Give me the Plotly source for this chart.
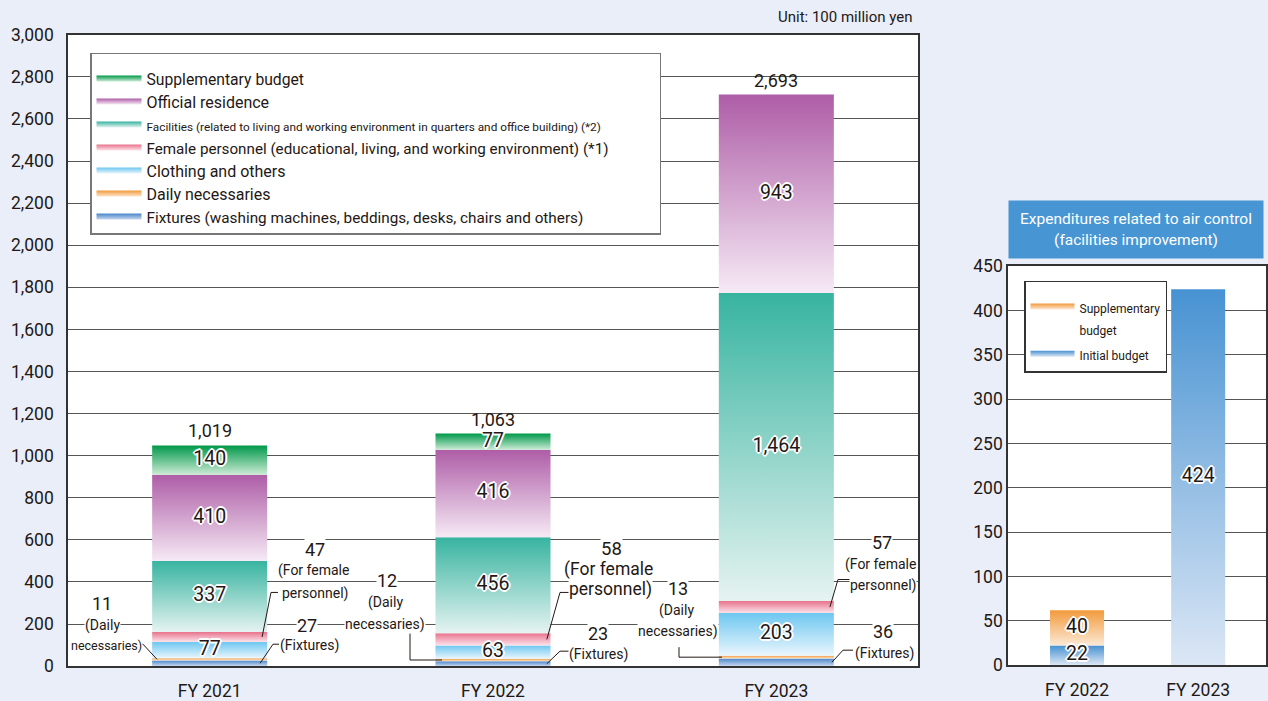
import plotly.graph_objects as go

# ---------------- data ----------------
years = ["FY 2021", "FY 2022", "FY 2023"]
fixtures = [27, 23, 36]
daily = [11, 12, 13]
clothing = [77, 63, 203]
female = [47, 58, 57]
facilities = [337, 456, 1464]
residence = [410, 416, 943]
supplementary = [140, 77, 0]
total_labels = ["1,019", "1,063", "2,693"]

series_names = [
    "Fixtures (washing machines, beddings, desks, chairs and others)",
    "Daily necessaries",
    "Clothing and others",
    "Female personnel (educational, living, and working environment) (*1)",
    "Facilities (related to living and working environment in quarters and office building) (*2)",
    "Official residence",
    "Supplementary budget",
]
ext_captions = ["(Fixtures)", "(Daily", "necessaries)", "(For female", "personnel)"]

air_years = ["FY 2022", "FY 2023"]
air_initial = [22, 424]
air_supp = [40, 0]
air_names = [["Initial budget"], ["Supplementary", "budget"]]

# ---------------- styles / geometry helpers ----------------
series_values = [fixtures, daily, clothing, female, facilities, residence, supplementary]
series_colors = [  # (top, bottom)
    ("#4A87CB", "#C9D8EF"),
    ("#F29A3C", "#FDE6CF"),
    ("#6DC7F0", "#EAF6FD"),
    ("#E8738D", "#FCE3EA"),
    ("#37B4A0", "#E6F3F1"),
    ("#AE5DA7", "#F6EAF5"),
    ("#00984A", "#CDEBD6"),
]
inner_label = [False, False, True, False, True, True, True]
legend_sizes = [15.3, 16, 16, 15.2, 11.8, 16, 15.7]
legend_pad = [0, 0, 0, 12, 0, 0, 0]
air_colors = [("#4792D2", "#DCE7F5"), ("#F29A3C", "#FCE9D6")]

BG = "#E9EEF8"
TXT = "#231815"
FONT = "Roboto, Arial"
HALO = ("-1px -1px 0 #fff, 1px -1px 0 #fff, -1px 1px 0 #fff, 1px 1px 0 #fff, "
        "0 2px 0 #fff, 2px 0 0 #fff, -2px 0 0 #fff, 0 -2px 0 #fff")
HW = 0.203
HW2 = 0.223

W, H_EFF, TOP_OFF = 1268, 677, 10


def pxx(px):
    return px / W


def pxy(py):
    return 1 - (py - TOP_OFF) / H_EFF


def dx(px):  # main chart pixel -> data x
    return (px - 68) / 850 * 3 - 0.5


def dy(py):  # main chart pixel -> data y
    return (669 - py) * 3000 / 634


fig = go.Figure()

# main stacked bars as gradient-filled rectangles
base = [0, 0, 0]
mids = {}
lab_x, lab_y, lab_t = [], [], []
for s, (name, vals, (ctop, cbot)) in enumerate(zip(series_names, series_values, series_colors)):
    first = True
    for i, v in enumerate(vals):
        if v <= 0:
            continue
        b = base[i]
        fig.add_trace(go.Scatter(
            x=[i - HW, i + HW, i + HW, i - HW, i - HW],
            y=[b, b, b + v, b + v, b],
            mode="none", fill="toself",
            fillgradient=dict(type="vertical", colorscale=[[0, cbot], [1, ctop]]),
            name=(f'<span style="font-size:{legend_sizes[s]}px">{name}'
                  + "&nbsp;" * legend_pad[s] + "</span>"),
            showlegend=first, legend="legend", hoverinfo="skip",
            xaxis="x", yaxis="y",
        ))
        first = False
        mids[(s, i)] = b + v / 2
        if inner_label[s]:
            lab_x.append(i)
            lab_y.append(b + v / 2)
            lab_t.append(f"{v:,}")
        base[i] = b + v

fig.add_trace(go.Scatter(
    x=lab_x, y=lab_y, text=lab_t, mode="text", showlegend=False, hoverinfo="skip",
    textfont=dict(family=FONT, size=19.5, color=TXT, shadow=HALO),
    xaxis="x", yaxis="y",
))

# totals
for i, t in enumerate(total_labels):
    fig.add_annotation(x=i, y=base[i], xref="x", yref="y", text=t, showarrow=False,
                       yanchor="bottom", yshift=2,
                       font=dict(family=FONT, size=18, color=TXT))

# air control chart
abase = [0, 0]
alab_x, alab_y, alab_t = [], [], []
for s, (name_lines, vals, (ctop, cbot)) in enumerate(zip(air_names, [air_initial, air_supp], air_colors)):
    first = True
    nm = "<br>".join(f'<span style="font-size:12px">{ln}</span>' for ln in name_lines)
    for i, v in enumerate(vals):
        if v <= 0:
            continue
        b = abase[i]
        fig.add_trace(go.Scatter(
            x=[i - HW2, i + HW2, i + HW2, i - HW2, i - HW2],
            y=[b, b, b + v, b + v, b],
            mode="none", fill="toself",
            fillgradient=dict(type="vertical", colorscale=[[0, cbot], [1, ctop]]),
            name=nm, showlegend=first, legend="legend2", hoverinfo="skip",
            xaxis="x2", yaxis="y2",
        ))
        first = False
        alab_x.append(i)
        alab_y.append(b + v / 2)
        alab_t.append(f"{v:,}")
        abase[i] = b + v

fig.add_trace(go.Scatter(
    x=alab_x, y=alab_y, text=alab_t, mode="text", showlegend=False, hoverinfo="skip",
    textfont=dict(family=FONT, size=19.5, color=TXT, shadow=HALO),
    xaxis="x2", yaxis="y2",
))

# external labels for small segments: (series, bar, [(caption index or None, x px, y px, size)])
ext = [
    (1, 0, [(None, 102, 606, 18), (1, 102, 628, 14), (2, 106, 648, 12.5)]),
    (3, 0, [(None, 315, 552, 18), (3, 313, 573, 14), (4, 315, 596, 14)]),
    (0, 0, [(None, 307, 628, 18), (0, 309, 648, 14)]),
    (1, 1, [(None, 387, 583, 18), (1, 385, 605, 14), (2, 385, 627, 14)]),
    (3, 1, [(None, 611, 551, 18.5), (3, 608, 572, 17.5), (4, 610, 592, 17.5)]),
    (0, 1, [(None, 598, 636, 18), (0, 598, 657, 14)]),
    (1, 2, [(None, 678, 591, 18), (1, 676, 613, 14), (2, 678, 634, 14)]),
    (3, 2, [(None, 882, 545, 18), (3, 880, 567, 14), (4, 883, 588, 14)]),
    (0, 2, [(None, 883, 634, 18), (0, 884, 656, 14)]),
]
for s, i, lines in ext:
    for cap, x, y, sz in lines:
        txt = str(series_values[s][i]) if cap is None else ext_captions[cap]
        fig.add_annotation(x=dx(x), y=dy(y), xref="x", yref="y", text=txt,
                           showarrow=False, bgcolor="white", borderpad=0,
                           font=dict(family=FONT, size=sz, color=TXT))

# leader lines: polyline from label (pixel points) to the middle of the segment
leaders = [
    (1, 0, [(138, 647), (143, 647)], -HW + 0.017),
    (3, 0, [(278, 595), (271, 595)], HW - 0.018),
    (0, 0, [(279, 647), (273, 647)], HW - 0.025),
    (1, 1, [(410, 636), (410, None)], -HW + 0.023),
    (3, 1, [(570, 595), (560, 595)], HW - 0.013),
    (0, 1, [(569, 654), (560, 654)], HW - 0.013),
    (1, 2, [(679, 650), (679, None)], -HW + 0.011),
    (3, 2, [(850, 582), (838, 582)], HW - 0.014),
    (0, 2, [(853, 653), (843, 653)], HW - 0.007),
]
for s, i, pts, off in leaders:
    ym = mids[(s, i)]
    coords = [(dx(px), dy(py) if py is not None else ym) for px, py in pts] + [(i + off, ym)]
    path = "M " + " L ".join(f"{a:.4f},{b:.2f}" for a, b in coords)
    fig.add_shape(type="path", path=path, xref="x", yref="y",
                  line=dict(color=TXT, width=1), layer="above")

# header box and unit
fig.add_annotation(x=pxx(1136), y=pxy(231.5), xref="paper", yref="paper",
                   text="Expenditures related to air control<br>(facilities improvement)",
                   showarrow=False, xanchor="center", yanchor="middle",
                   bgcolor="#4796D3", width=252, height=55, borderpad=1,
                   font=dict(family=FONT, size=15.5, color="white"))
fig.add_annotation(x=pxx(914), y=pxy(17), xref="paper", yref="paper",
                   text="Unit: 100 million yen", showarrow=False,
                   xanchor="right", yanchor="middle",
                   font=dict(family=FONT, size=15, color=TXT))

axis_common = dict(showline=True, mirror=True, linecolor="#333333", linewidth=1.5,
                   ticks="", fixedrange=True, zeroline=False,
                   tickfont=dict(family=FONT, size=17.5, color=TXT))

fig.update_layout(
    width=1268, height=701, autosize=False,
    margin=dict(l=0, r=0, t=0, b=0),
    paper_bgcolor=BG, plot_bgcolor="white",
    font=dict(family=FONT, color=TXT),
    xaxis=dict(domain=[pxx(68), pxx(918)], range=[-0.5, 2.5], tickvals=[0, 1, 2], ticktext=years,
               showgrid=False, anchor="y", ticklabelstandoff=8, **axis_common),
    yaxis=dict(domain=[pxy(671), pxy(35)], range=[0, 3000], dtick=200, tickformat=",",
               showgrid=True, gridcolor="#555555", gridwidth=1, anchor="x",
               ticklabelstandoff=9, **axis_common),
    xaxis2=dict(domain=[pxx(1008), pxx(1266)], range=[-0.57, 1.56], tickvals=[0, 1],
                ticktext=air_years, showgrid=False, anchor="y2", ticklabelstandoff=8,
                **axis_common),
    yaxis2=dict(domain=[pxy(670), pxy(268)], range=[0, 450], dtick=50,
                showgrid=True, gridcolor="#555555", gridwidth=1, anchor="x2", **axis_common),
    legend=dict(x=pxx(90), y=pxy(53), xanchor="left", yanchor="top", traceorder="reversed",
                bgcolor="white", bordercolor="#777777", borderwidth=1.5,
                font=dict(family=FONT, size=15.4, color=TXT), itemwidth=45,
                tracegroupgap=0,
                title=dict(text="&nbsp;", font=dict(size=6))),
    legend2=dict(x=pxx(1024), y=pxy(283), xanchor="left", yanchor="top", traceorder="reversed",
                 bgcolor="white", bordercolor="#333333", borderwidth=1.5, valign="top",
                 font=dict(family=FONT, size=17, color=TXT), itemwidth=44,
                 title=dict(text="&nbsp;", font=dict(size=5))),
    showlegend=True,
)

post = ("document.body.style.margin='0';document.body.style.overflow='hidden';"
        "var gd=document.getElementById('{plot_id}');"
        "Plotly.relayout(gd,{width:1268,height:701});")
fig.write_html("out.html", post_script=post, config={"displayModeBar": False})
